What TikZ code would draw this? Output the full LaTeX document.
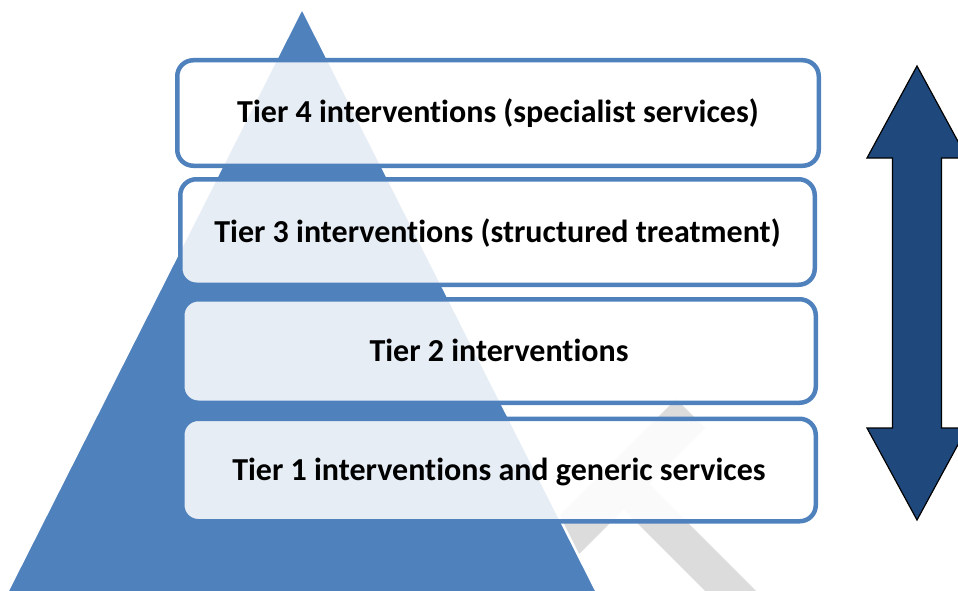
\documentclass[tikz,border=0pt]{standalone}
\usepackage{fontspec}
\setmainfont{Carlito}[Ligatures=NoCommon]
\definecolor{tierblue}{HTML}{4F81BD}
\definecolor{arrowblue}{HTML}{1F497D}
\definecolor{shadowgray}{HTML}{DCDCDC}
\begin{document}
\begin{tikzpicture}[x=1pt,y=-1pt,
  tierbox/.style={draw=tierblue, line width=4.5pt, rounded corners=16pt,
    fill=white, fill opacity=0.86, text opacity=1, inner sep=0pt,
    font=\bfseries\fontsize{32}{38}\selectfont, text height=20pt, text depth=0pt},
  pyramid/.style={fill=tierblue, draw=white, line width=2.5pt},
  bigarrow/.style={fill=arrowblue, draw=black, line width=1.2pt, line join=miter}
]
\useasboundingbox (0,0) rectangle (958,591);
\clip (0,0) rectangle (958,591);

% grey band lying behind the pyramid
\fill[shadowgray] (676,399) -- (705,428) -- (649,484) -- (776,611) -- (725,611)
  -- (623.5,509.5) -- (522,611) -- (464,611) -- cycle;

% pyramid
\filldraw[pyramid] (302,8) -- (606.5,611) -- (-2.5,611) -- cycle;

% tiers
\node[tierbox, minimum width=641.5pt, minimum height=105.5pt] (t4) at (498,113)
  {Tier 4 interventions (specialist services)};
\node[tierbox, minimum width=634.5pt, minimum height=105.5pt] (t3) at (497.5,232)
  {Tier 3 interventions (structured treatment)};
\node[tierbox, minimum width=633.5pt, minimum height=103.5pt] (t2) at (499,351)
  {Tier 2 interventions};
\node[tierbox, minimum width=633.5pt, minimum height=102.5pt] (t1) at (499,470)
  {Tier 1 interventions and generic services};

% double-headed arrow on the right
\filldraw[bigarrow] (917,66) -- (967,158) -- (941.5,158) -- (941.5,428) -- (967,428)
  -- (917,520) -- (867,428) -- (892.5,428) -- (892.5,158) -- (867,158) -- cycle;
\end{tikzpicture}
\end{document}
